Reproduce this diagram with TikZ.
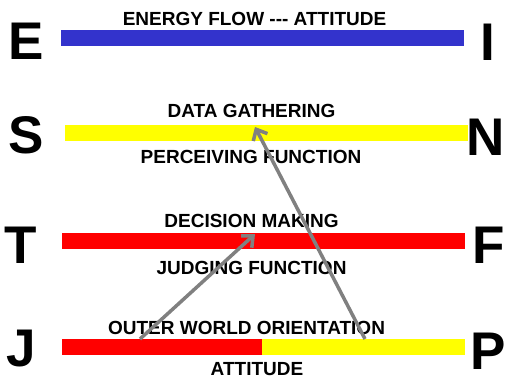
\documentclass[tikz,border=0pt]{standalone}
\usepackage{fontspec}
\setmainfont{Liberation Sans}
\usepackage{xcolor}
\usetikzlibrary{arrows.meta}
\definecolor{energy}{HTML}{3333CC}
\definecolor{perceive}{HTML}{FFFF00}
\definecolor{judge}{HTML}{FF0000}
\definecolor{pointer}{HTML}{808080}

\begin{document}
\begin{tikzpicture}[
  x=1pt, y=-1pt,
  bar/.style={draw=none, minimum height=15.5pt, inner sep=0pt, outer sep=0pt},
  pole/.style={font=\fontsize{53}{53}\selectfont\bfseries, inner sep=0pt},
  caption/.style={font=\fontsize{19}{19}\selectfont\bfseries, inner sep=0pt},
  flow/.style={-{Straight Barb[length=9pt,width=16pt,line width=3.5pt]}, line width=3.5pt, pointer}
]
  \useasboundingbox (0,0) rectangle (505,379);

  \node[bar, fill=energy, minimum width=403pt] (ei) at (262.5,38) {};
  \node[bar, fill=perceive, minimum width=402.5pt] (sn) at (266.3,133) {};
  \node[bar, fill=judge, minimum width=403pt] (tf) at (263.5,241) {};
  \node[bar, fill=judge, minimum width=200pt] (jside) at (162,347) {};
  \node[bar, fill=perceive, minimum width=203pt] (pside) at (363.5,347) {};

  \node[pole] (e) at (26,41) {E};
  \node[pole] (i) at (488,42) {I};
  \node[pole] (s) at (26,135) {S};
  \node[pole] (n) at (485.5,137) {N};
  \node[pole] (t) at (21,245) {T};
  \node[pole] (f) at (489,245) {F};
  \node[pole] (j) at (21,349) {J};
  \node[pole] (p) at (488,351) {P};

  \node[caption] (energyflow) at (254.5,19) {ENERGY FLOW -{}-{}- ATTITUDE};
  \node[caption] (gathering) at (251.5,111) {DATA GATHERING};
  \node[caption] (perceiving) at (251,157) {PERCEIVING FUNCTION};
  \node[caption] (deciding) at (251.5,221) {DECISION MAKING};
  \node[caption] (judging) at (251.5,268) {JUDGING FUNCTION};
  \node[caption] (outer) at (246.5,328) {OUTER WORLD ORIENTATION};
  \node[caption] (attitude) at (257,369) {ATTITUDE};

  \coordinate (jstart) at (140,339);
  \coordinate (pstart) at (365,339);
  \coordinate (tfhit) at (255,234);
  \coordinate (snhit) at (255,127);

  \draw[flow] (jstart) -- (tfhit);
  \draw[flow] (pstart) -- (snhit);
\end{tikzpicture}
\end{document}
